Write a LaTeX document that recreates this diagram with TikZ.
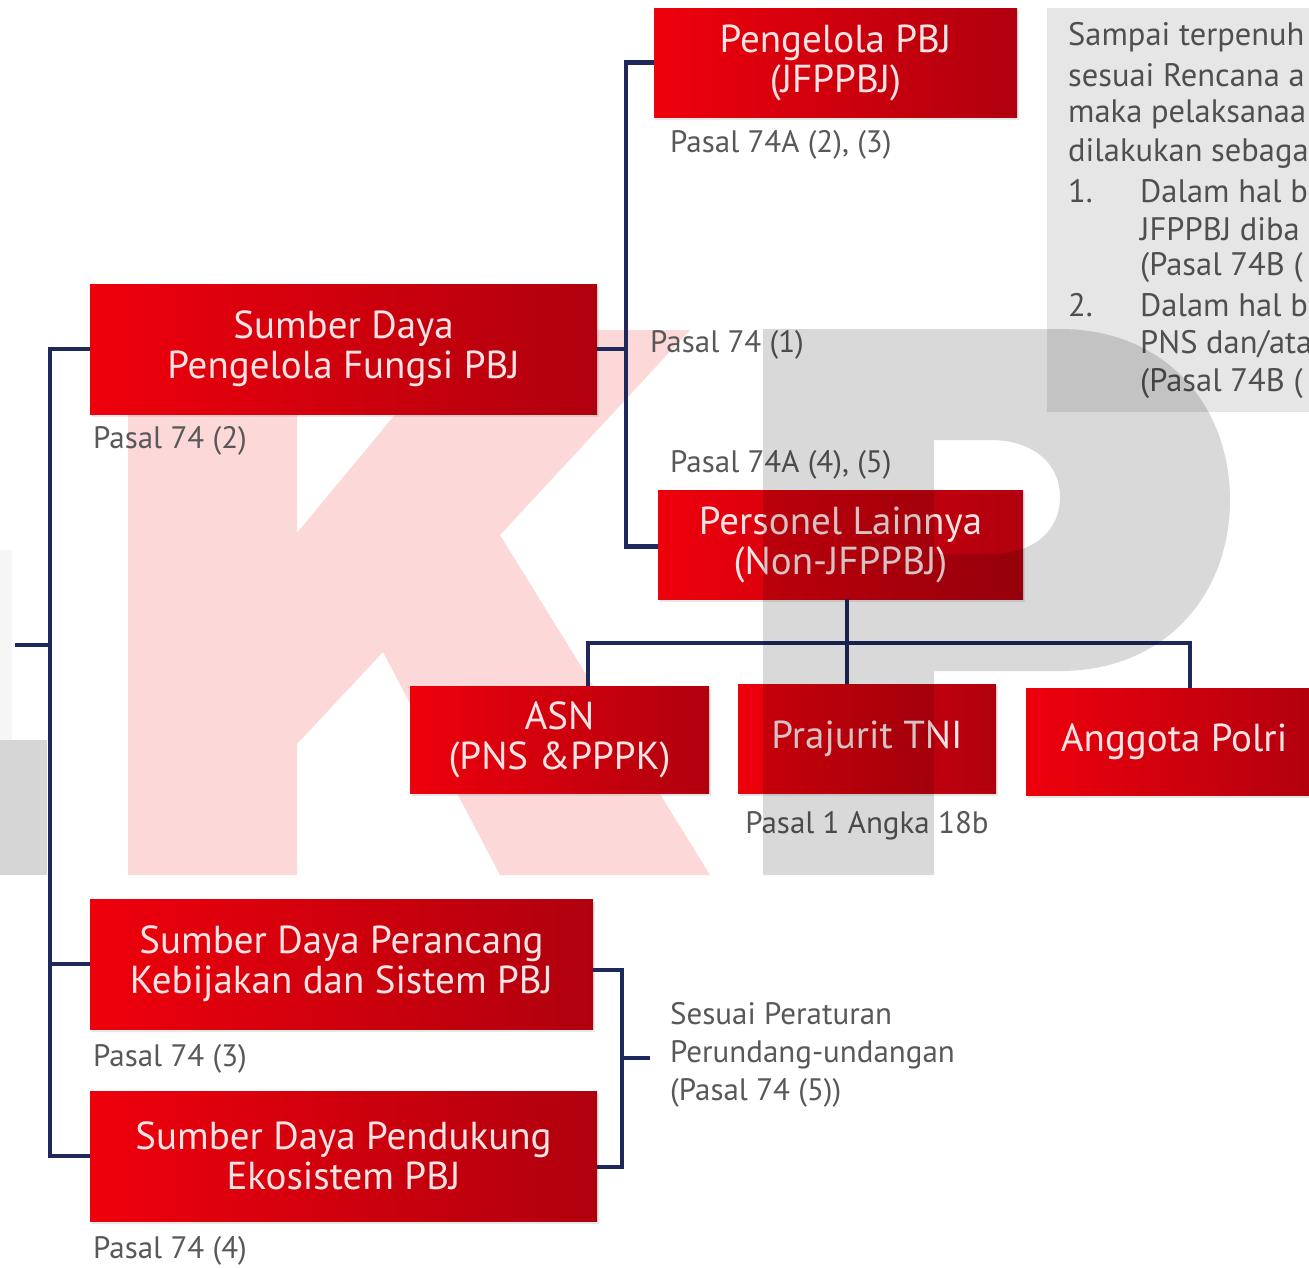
\documentclass[tikz,border=0pt]{standalone}
\usepackage{fontspec}
\setmainfont{PT Sans}
\usetikzlibrary{calc,shadows}
\definecolor{navy}{RGB}{30,40,90}
\definecolor{boxl}{RGB}{238,0,12}
\definecolor{boxr}{RGB}{176,0,14}
\definecolor{boxtxt}{RGB}{252,228,228}
\definecolor{lblgray}{RGB}{88,88,88}
\definecolor{wmpink}{RGB}{253,216,216}
\definecolor{notegray}{RGB}{230,230,230}
\begin{document}
\begin{tikzpicture}[x=1pt,y=-1pt,
  conn/.style={draw=navy,line width=4.5pt},
  redbox/.style={left color=boxl,right color=boxr,text=boxtxt,align=center,inner sep=0pt,
    font=\fontsize{39}{40}\selectfont,
    drop shadow={opacity=0.18,shadow xshift=2pt,shadow yshift=-3pt}},
  lbl/.style={text=lblgray,font=\fontsize{31}{38}\selectfont,inner sep=0pt,anchor=west},
  notetxt/.style={text=lblgray!90!black,font=\fontsize{32.5}{38}\selectfont,inner sep=0pt,anchor=west},
]
\useasboundingbox (0,0) rectangle (1309,1267);
\clip (0,0) rectangle (1309,1267);
\fill[white] (0,0) rectangle (1309,1267);

% watermark K (behind)
\fill[wmpink] (128,330) -- (297,330) -- (297,533) -- (465,330) -- (690,330) -- (500,535)
  -- (710,875) -- (500,875) -- (383,652) -- (297,744) -- (297,875) -- (128,875) -- cycle;
% watermark L (partial)
\fill[black,opacity=0.035] (0,550) rectangle (12,740);
\fill[black,opacity=0.16] (0,740) rectangle (47,875);

% note box
\fill[notegray] (1047,8) rectangle (1330,412);
\node[notetxt] (g1) at (1068,37) {Sampai terpenuh};
\node[notetxt] (g2) at (1068,75) {sesuai Rencana a};
\node[notetxt] (g3) at (1068,114) {maka pelaksanaa};
\node[notetxt] (g4) at (1068,153) {dilakukan sebaga};
\node[notetxt] (g5) at (1068,191) {1.};
\node[notetxt] (g6) at (1140,191) {Dalam hal b};
\node[notetxt] (g7) at (1140,229) {JFPPBJ diba};
\node[notetxt] (g8) at (1140,267) {(Pasal 74B (};
\node[notetxt] (g9) at (1068,305) {2.};
\node[notetxt] (g10) at (1140,305) {Dalam hal b};
\node[notetxt] (g11) at (1140,344) {PNS dan/ata};
\node[notetxt] (g12) at (1140,383) {(Pasal 74B (};

% boxes
\node[redbox,minimum width=363pt,minimum height=109pt] (peng) at (835.5,62.5) {Pengelola PBJ\\(JFPPBJ)};
\node[redbox,minimum width=507pt,minimum height=130pt] (sdp) at (343.5,349) {Sumber Daya\\Pengelola Fungsi PBJ};
\node[redbox,minimum width=365pt,minimum height=109pt] (pers) at (840.5,544.5) {Personel Lainnya\\(Non-JFPPBJ)};
\node[redbox,minimum width=299pt,minimum height=107pt] (asn) at (559.5,739.5) {ASN\\(PNS \&PPPK)};
\node[redbox,minimum width=258pt,minimum height=109pt] (tni) at (867,738.5) {Prajurit TNI};
\node[redbox,minimum width=296pt,minimum height=107pt] (polri) at (1174,741.5) {Anggota Polri};
\node[redbox,minimum width=503pt,minimum height=130pt] (peran) at (341.5,964) {Sumber Daya Perancang\\Kebijakan dan Sistem PBJ};
\node[redbox,minimum width=507pt,minimum height=130pt] (pend) at (343.5,1156) {Sumber Daya Pendukung\\Ekosistem PBJ};

% labels
\node[lbl] (l1) at (670,145) {Pasal 74A (2), (3)};
\node[lbl] (l2) at (93,441) {Pasal 74 (2)};
\node[lbl] (l3) at (650,345) {Pasal 74 (1)};
\node[lbl] (l4) at (670,465) {Pasal 74A (4), (5)};
\node[lbl,anchor=center] (l5) at (867,826) {Pasal 1 Angka 18b};
\node[lbl] (l6) at (93,1059) {Pasal 74 (3)};
\node[lbl] (l7) at (93,1251) {Pasal 74 (4)};
\node[lbl,align=left,anchor=north west] (l8) at (670,1002) {Sesuai Peraturan\\Perundang-undangan\\(Pasal 74 (5))};

% connectors
\coordinate (trunk) at (50,645);
\coordinate (root) at (15,645);
\draw[conn] (sdp.west) -- (sdp.west -| trunk) -- (pend.west -| trunk) -- (pend.west);
\draw[conn] (root) -- (trunk);
\draw[conn] (peran.west) -- (peran.west -| trunk);

\coordinate (rj) at (626,349);
\draw[conn] (sdp.east) -- (rj);
\draw[conn] (peng.west) -- (peng.west -| rj) -- ($(pers.west -| rj)+(0,2)$) -- ($(pers.west)+(0,2)$);

\coordinate (bx) at (847,643);
\coordinate (hl) at (588,643);
\coordinate (hr) at (1190,643);
\draw[conn] (pers.south -| bx) -- (tni.north -| bx);
\draw[conn] (asn.north -| hl) -- (hl) -- (hr) -- (polri.north -| hr);

\coordinate (bj) at (622,1058);
\coordinate (bt) at (650,1058);
\draw[conn] ($(peran.east)+(0,6)$) -- ($(peran.east -| bj)+(0,6)$) -- ($(pend.east -| bj)+(0,11)$) -- ($(pend.east)+(0,11)$);
\draw[conn] (bj) -- (bt);

% watermark P (on top, translucent)
\fill[black,opacity=0.15,even odd rule]
  (763,329) -- (1060,329) .. controls (1165,329) and (1230,405) .. (1230,500)
  .. controls (1230,595) and (1165,671) .. (1060,671) -- (934,671) -- (934,875) -- (763,875) -- cycle
  (934,440) -- (990,440) .. controls (1035,440) and (1060,465) .. (1060,497)
  .. controls (1060,530) and (1035,554) .. (990,554) -- (934,554) -- cycle;
\end{tikzpicture}
\end{document}
